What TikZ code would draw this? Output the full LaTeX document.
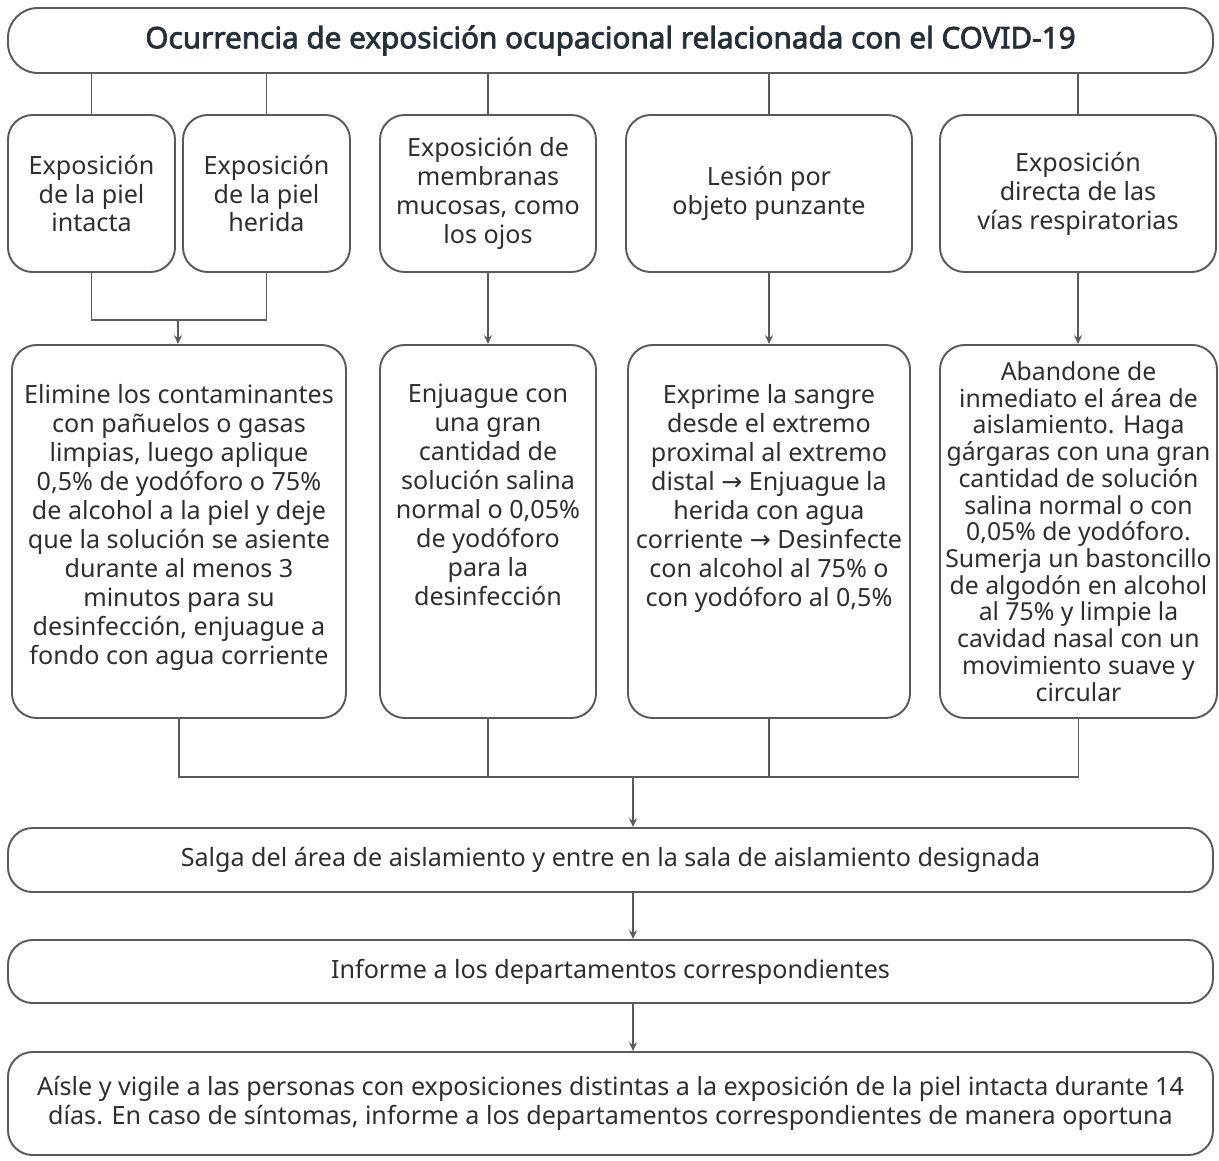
\documentclass[tikz,border=0pt]{standalone}
\usepackage{fontspec}
\setmainfont{Noto Sans}
\newfontfamily\titlefont{Noto Sans}[FakeBold=2.5]
\newfontfamily\arrowfont{DejaVu Sans}
\usetikzlibrary{arrows.meta}
\definecolor{linegray}{HTML}{5A5A5A}
\definecolor{textgray}{HTML}{2E2E2E}
\definecolor{titlecol}{HTML}{262E38}
\def\px{0.02cm}
\def\ra{{\arrowfont →}}
\tikzset{
  box/.style={draw=linegray, line width=1.1pt, rounded corners=14pt, inner sep=0pt},
  txt/.style={text=textgray, align=center, inner sep=0pt,
    font=\fontsize{14.3}{16.5}\selectfont},
  link/.style={draw=linegray, line width=1.1pt},
  arr/.style={link, -{Stealth[length=5pt,width=4.5pt]}},
}
\begin{document}
\begin{tikzpicture}[x=0.02cm, y=-0.02cm]
		\useasboundingbox (0,0) rectangle (1219,1160);
		% title
		\node[box, rounded corners=17pt, minimum width=1205*\px, minimum height=65*\px,
		  text=titlecol, font=\fontsize{16.9}{19}\titlefont] (top) at (610.5,40.5)
		  {Ocurrencia de exposición ocupacional relacionada con el COVID-19};
		% kinds of exposure
		\node[box, txt, minimum width=167*\px, minimum height=157*\px] (b1) at (91.5,193.5)
		  {Exposición\\de la piel\\intacta};
		\node[box, txt, minimum width=167*\px, minimum height=157*\px] (b2) at (266.5,193.5)
		  {Exposición\\de la piel\\herida};
		\node[box, txt, minimum width=216*\px, minimum height=157*\px] (b3) at (488,193.5)
		  {Exposición de\\membranas\\mucosas, como\\los ojos};
		\node[box, txt, minimum width=286*\px, minimum height=157*\px] (b4) at (769,193.5)
		  {Lesión por\\objeto punzante};
		\node[box, txt, minimum width=276*\px, minimum height=157*\px] (b5) at (1078,193.5)
		  {Exposición\\directa de las\\vías respiratorias};
		% what to do
		\node[box, minimum width=334*\px, minimum height=373*\px] (c1) at (179,531.5) {};
		\node[box, minimum width=216*\px, minimum height=373*\px] (c2) at (488,531.5) {};
		\node[box, minimum width=282*\px, minimum height=373*\px] (c3) at (769,531.5) {};
		\node[box, txt, font=\fontsize{14.1}{15.2}\selectfont,
		  minimum width=277*\px, minimum height=373*\px] (c4) at (1078.5,531.5)
		  {Abandone de\\inmediato el área de\\aislamiento. Haga\\gárgaras con una gran\\cantidad de solución\\salina normal o con\\0,05\% de yodóforo.\\Sumerja un bastoncillo\\de algodón en alcohol\\al 75\% y limpie la\\cavidad nasal con un\\movimiento suave y\\circular};
		\node[txt, anchor=north] (c1t) at (179,384)
		  {Elimine los contaminantes\\con pañuelos o gasas\\limpias, luego aplique\\0,5\% de yodóforo o 75\%\\de alcohol a la piel y deje\\que la solución se asiente\\durante al menos 3\\minutos para su\\desinfección, enjuague a\\fondo con agua corriente};
		\node[txt, anchor=north] (c2t) at (488,384)
		  {Enjuague con\\una gran\\cantidad de\\solución salina\\normal o 0,05\%\\de yodóforo\\para la\\desinfección};
		\node[txt, anchor=north] (c3t) at (769,384)
		  {Exprime la sangre\\desde el extremo\\proximal al extremo\\distal \ra{} Enjuague la\\herida con agua\\corriente \ra{} Desinfecte\\con alcohol al 75\% o\\con yodóforo al 0,5\%};
		% after
		\node[box, txt, minimum width=1205*\px, minimum height=64*\px] (s) at (610.5,860)
		  {Salga del área de aislamiento y entre en la sala de aislamiento designada};
		\node[box, txt, minimum width=1205*\px, minimum height=63*\px] (inf) at (610.5,971.5)
		  {Informe a los departamentos correspondientes};
		\node[box, txt, minimum width=1205*\px, minimum height=103*\px] (fin) at (610.5,1103.5)
		  {Aísle y vigile a las personas con exposiciones distintas a la exposición de la piel intacta durante 14\\días. En caso de síntomas, informe a los departamentos correspondientes de manera oportuna};
		% connectors
		\foreach \b in {b1,b2,b3,b4,b5}
		  \draw[link] (\b.north) -- (\b.north |- top.south);
		\coordinate (j1) at (178,320);
		\draw[link] (b1.south) |- (j1) -| (b2.south);
		\draw[arr] (j1) -- (j1 |- c1.north);
		\draw[arr] (b3) -- (c2);
		\draw[arr] (b4) -- (c3);
		\draw[arr] (b5.south) -- (b5.south |- c4.north);
		\coordinate (j2) at (633,777);
		\draw[link] (c1.south) |- (c4.south |- j2) -- (c4.south);
		\draw[link] (c2.south) -- (c2.south |- j2);
		\draw[link] (c3.south) -- (c3.south |- j2);
		\draw[arr] (j2) -- (j2 |- s.north);
		\draw[arr] (j2 |- s.south) -- (j2 |- inf.north);
		\draw[arr] (j2 |- inf.south) -- (j2 |- fin.north);
	\end{tikzpicture}
\end{document}
